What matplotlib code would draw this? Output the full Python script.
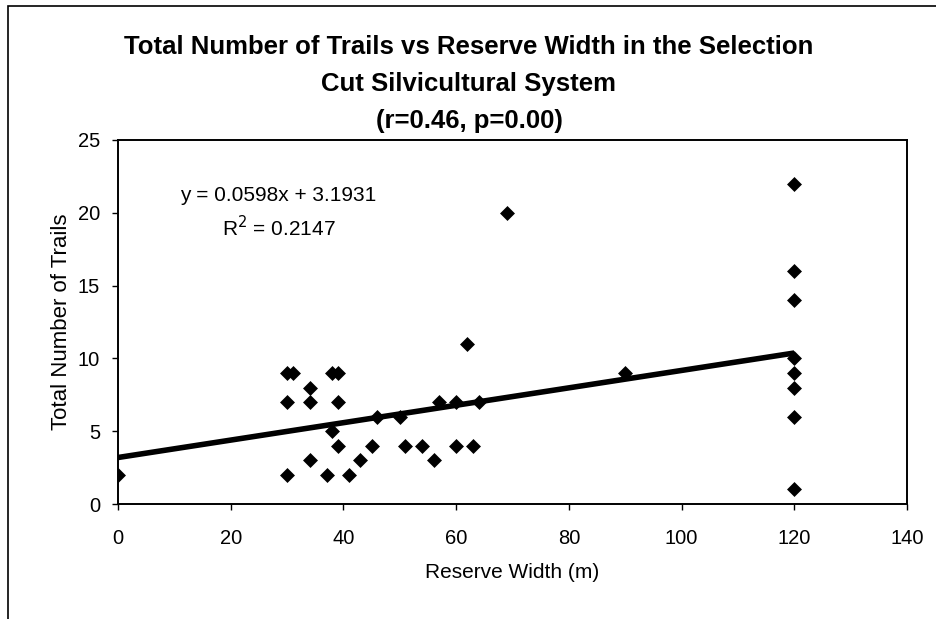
import numpy as np
import matplotlib
matplotlib.use("Agg")
import matplotlib.pyplot as plt
from matplotlib.patches import Rectangle

### Data
reserve_width = [0, 30, 31, 30, 30, 34, 34, 34, 37, 38, 38, 39, 39, 39,
                 41, 43, 45, 46, 50, 51, 54, 56, 57, 60, 60, 62, 63, 64,
                 69, 90, 120, 120, 120, 120, 120, 120, 120, 120]
total_trails = [2, 9, 9, 7, 2, 8, 7, 3, 2, 9, 5, 9, 7, 4,
                2, 3, 4, 6, 6, 4, 4, 3, 7, 7, 4, 11, 4, 7,
                20, 9, 22, 16, 14, 10, 9, 8, 6, 1]

# trendline as printed on the chart
slope = 0.0598
intercept = 3.1931
r_squared = 0.2147

plt.rcParams['font.family'] = ['Liberation Sans', 'DejaVu Sans']

fig = plt.figure(figsize=(9.37, 6.19), dpi=100)
ax = fig.add_axes([118 / 937, 1 - 504 / 619, (907 - 118) / 937, (504 - 140) / 619])

# outer chart-area frame (cut off at right and bottom)
fig.patches.append(Rectangle((8 / 937, -0.05), 1.1, 1 - 6 / 619 + 0.05,
                             transform=fig.transFigure, fill=False,
                             edgecolor='black', linewidth=1.2))

x = np.array(reserve_width)
ax.scatter(x, total_trails, marker='D', s=58, color='black', zorder=3,
           linewidths=0)

fit_x = np.array([min(reserve_width), max(reserve_width)])
ax.plot(fit_x, slope * fit_x + intercept, color='black', linewidth=4,
        solid_capstyle='butt', zorder=2)

ax.set_xlim(0, 140)
ax.set_ylim(0, 25)
ax.set_xticks(np.arange(0, 141, 20))
ax.set_yticks(np.arange(0, 26, 5))
ax.tick_params(direction='out', length=4, width=1, labelsize=14.5, pad=14)
ax.tick_params(axis='y', pad=9)
for s in ax.spines.values():
    s.set_linewidth(1.4)

ax.set_xlabel('Reserve Width (m)', fontsize=15, labelpad=11)
ax.set_ylabel('Total Number of Trails', fontsize=16, labelpad=4)

ax.text(28.5, 21.2, 'y = 0.0598x + 3.1931', ha='center', va='center', fontsize=15)
ax.text(28.5, 19.0, 'R$^2$ = %.4f' % r_squared, ha='center', va='center', fontsize=15)

title_lines = ['Total Number of Trails vs Reserve Width in the Selection',
               'Cut Silvicultural System',
               '(r=0.46, p=0.00)']
for i, line in enumerate(title_lines):
    fig.text(469 / 937, 1 - (47 + i * 37) / 619, line, ha='center', va='center',
             fontsize=18.5, fontweight='bold')

fig.savefig('out.png', dpi=100)
